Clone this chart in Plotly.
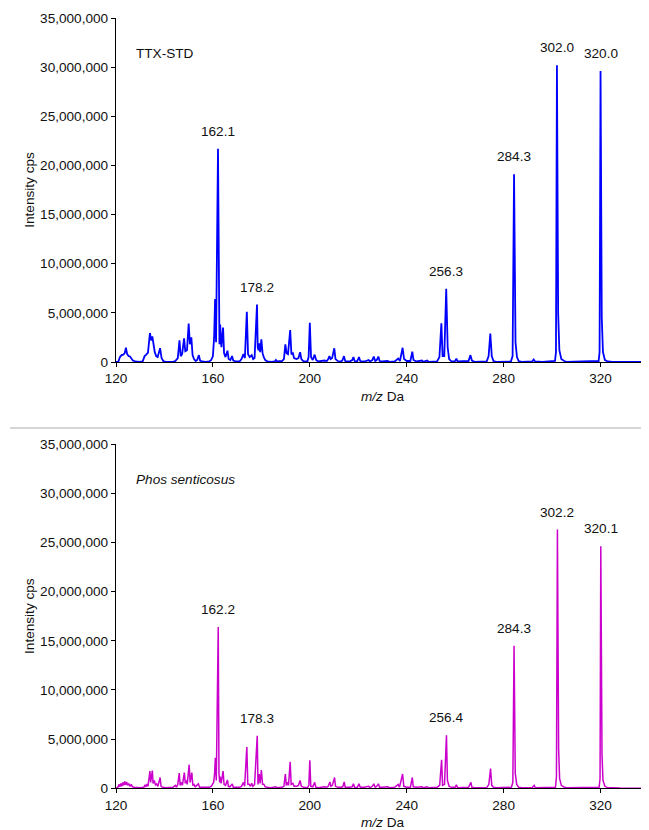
import plotly.graph_objects as go

# ---------------- data ----------------
# TTX standard spectrum profile (m/z, intensity cps)
ttx_mz = [120.0, 121.0, 121.6, 122.3, 123.0, 123.6, 124.1, 124.6, 125.2, 125.8, 126.5, 127.0, 128.0, 129.5,
          131.0, 131.8, 132.5, 133.2, 134.0, 134.5, 135.0, 135.5, 136.0, 136.6, 137.2, 138.2, 138.8, 139.5, 140.5,
          143.0, 144.5, 145.5, 146.2, 146.7, 147.3, 148.1, 148.6, 149.3, 150.0, 150.5, 151.1, 151.6, 152.2, 152.9,
          153.5, 154.2, 154.7, 155.5, 157.0, 158.5, 159.3, 160.0, 160.5, 160.9, 161.3, 162.1, 162.4, 162.7, 163.0,
          163.5, 164.2, 164.6, 165.2, 166.0, 166.5, 167.2, 167.9, 168.4, 169.5, 171.0, 171.8, 172.6, 173.2, 174.0,
          174.5, 175.2, 176.0, 176.6, 177.2, 178.2, 178.5, 178.8, 179.1, 179.5, 180.0, 180.5, 181.0, 181.6, 182.5,
          184.0, 185.5, 186.0, 186.5, 188.5, 189.3, 189.9, 190.4, 191.0, 191.9, 192.4, 193.0, 193.5, 194.5, 195.3,
          196.0, 196.5, 197.5, 199.0, 199.5, 200.0, 200.5, 201.2, 202.0, 202.6, 203.5, 205.0, 206.0, 207.0, 207.6,
          208.1, 208.6, 209.2, 210.1, 210.6, 211.5, 213.0, 213.5, 214.1, 214.6, 216.5, 217.5, 218.0, 218.5, 219.5,
          220.3, 220.8, 222.5, 224.3, 224.8, 225.8, 226.4, 227.0, 227.6, 228.3, 228.8, 230.0, 232.0, 233.0, 235.0,
          236.5, 237.2, 238.3, 238.9, 240.0, 241.5, 242.3, 242.8, 244.0, 246.3, 246.8, 248.4, 249.0, 252.5, 253.5,
          254.3, 254.8, 255.5, 256.3, 256.9, 257.5, 258.5, 260.0, 260.5, 261.0, 265.5, 266.3, 266.9, 268.0, 272.0,
          272.4, 273.0, 273.8, 274.5, 275.1, 275.8, 277.0, 283.0, 283.7, 284.3, 284.9, 285.5, 286.2, 287.5, 291.8,
          292.4, 293.0, 296.0, 301.2, 301.6, 302.0, 302.5, 303.0, 303.8, 305.0, 306.0, 319.2, 319.6, 320.0, 320.5,
          321.0, 321.8, 323.0, 325.0, 340.0]
ttx_int = [0.0, 0.05e6, 0.5e6, 0.7e6, 0.75e6, 0.9e6, 1.45e6, 0.8e6, 0.6e6, 0.55e6, 0.3e6, 0.15e6, 0.05e6, 0.0,
           0.05e6, 0.6e6, 0.75e6, 0.95e6, 2.95e6, 2.2e6, 2.6e6, 1.6e6, 1.0e6, 0.6e6, 0.5e6, 1.4e6, 0.4e6, 0.1e6, 0.02e6,
           0.0, 0.1e6, 0.4e6, 2.2e6, 0.6e6, 0.8e6, 2.4e6, 1.1e6, 1.2e6, 3.9e6, 1.8e6, 2.5e6, 0.7e6, 0.3e6, 0.1e6,
           0.2e6, 0.7e6, 0.15e6, 0.05e6, 0.0, 0.05e6, 0.2e6, 0.6e6, 2.5e6, 6.4e6, 2.0e6, 21.7e6, 5.0e6, 1.8e6, 3.8e6,
           1.5e6, 3.5e6, 0.9e6, 0.5e6, 1.15e6, 0.3e6, 0.2e6, 0.6e6, 0.15e6, 0.05e6, 0.05e6, 0.3e6, 0.8e6, 0.4e6, 5.1e6,
           0.8e6, 0.5e6, 0.7e6, 0.3e6, 0.4e6, 5.85e6, 1.5e6, 1.2e6, 1.9e6, 1.0e6, 2.3e6, 0.9e6, 0.5e6, 0.2e6, 0.05e6,
           0.0, 0.05e6, 0.2e6, 0.05e6, 0.1e6, 0.3e6, 1.8e6, 0.9e6, 0.8e6, 3.25e6, 0.8e6, 0.9e6, 0.4e6, 0.3e6, 0.4e6,
           1.0e6, 0.3e6, 0.05e6, 0.05e6, 0.5e6, 4.0e6, 0.5e6, 0.2e6, 0.75e6, 0.2e6, 0.05e6, 0.1e6, 0.15e6, 0.1e6, 0.3e6,
           0.6e6, 0.3e6, 0.4e6, 1.4e6, 0.3e6, 0.1e6, 0.05e6, 0.2e6, 0.6e6, 0.1e6, 0.05e6, 0.2e6, 0.5e6, 0.1e6, 0.05e6,
           0.5e6, 0.1e6, 0.05e6, 0.2e6, 0.05e6, 0.2e6, 0.55e6, 0.1e6, 0.2e6, 0.55e6, 0.1e6, 0.05e6, 0.1e6, 0.02e6, 0.05e6,
           0.35e6, 0.1e6, 1.45e6, 0.3e6, 0.1e6, 0.1e6, 1.05e6, 0.2e6, 0.05e6, 0.15e6, 0.02e6, 0.15e6, 0.02e6, 0.05e6, 0.5e6,
           3.95e6, 0.6e6, 0.6e6, 7.45e6, 1.5e6, 0.3e6, 0.05e6, 0.1e6, 0.35e6, 0.05e6, 0.1e6, 0.7e6, 0.15e6, 0.02e6, 0.05e6,
           0.1e6, 0.05e6, 0.6e6, 2.9e6, 0.6e6, 0.1e6, 0.02e6, 0.05e6, 0.6e6, 19.1e6, 2.0e6, 0.5e6, 0.1e6, 0.02e6, 0.05e6,
           0.25e6, 0.05e6, 0.02e6, 0.1e6, 1.0e6, 30.2e6, 5.0e6, 1.2e6, 0.3e6, 0.1e6, 0.02e6, 0.1e6, 1.0e6, 29.6e6, 4.5e6,
           1.0e6, 0.2e6, 0.05e6, 0.02e6, 0.0]

# Phos senticosus sample spectrum profile (m/z, intensity cps)
phos_mz = [120.0, 120.8, 121.2, 121.6, 122.0, 122.4, 122.8, 123.2, 123.6, 124.0, 124.4, 124.8, 125.3, 125.8,
           126.3, 126.8, 127.5, 128.5, 130.0, 131.5, 132.0, 132.4, 132.8, 133.2, 133.6, 134.0, 134.3, 134.7, 135.0,
           135.3, 135.8, 136.3, 136.8, 137.3, 138.2, 138.6, 139.3, 140.5, 142.5, 143.5, 144.5, 145.0, 145.5, 146.1,
           146.5, 147.0, 147.4, 148.2, 148.6, 149.0, 149.4, 150.2, 150.6, 151.3, 151.7, 152.2, 152.7, 153.2, 154.0,
           154.5, 155.5, 157.0, 158.5, 159.3, 159.8, 160.3, 160.7, 161.0, 161.4, 162.2, 162.5, 162.8, 163.0, 163.4,
           164.2, 164.6, 165.2, 166.0, 166.4, 167.0, 168.0, 168.4, 169.5, 171.0, 171.8, 172.6, 173.1, 174.0, 174.4,
           175.0, 175.5, 176.0, 176.5, 177.2, 178.3, 178.6, 179.1, 179.5, 180.0, 180.5, 181.0, 181.6, 182.5, 184.0,
           186.0, 186.4, 188.5, 189.3, 189.9, 190.3, 190.8, 191.2, 191.9, 192.3, 193.0, 193.5, 194.5, 195.3, 196.0,
           196.5, 197.5, 199.0, 199.6, 200.0, 200.4, 201.2, 202.0, 202.5, 203.5, 205.0, 206.0, 207.0, 207.6, 208.3,
           208.7, 209.3, 210.2, 210.6, 211.5, 213.0, 213.6, 214.2, 214.6, 216.5, 217.5, 218.0, 218.5, 219.5, 220.3,
           220.8, 222.5, 224.3, 224.8, 225.8, 226.4, 227.0, 227.6, 228.3, 228.8, 230.0, 232.0, 233.0, 235.0, 236.5,
           237.0, 238.3, 238.8, 240.0, 241.5, 242.3, 242.7, 244.0, 246.3, 246.8, 248.4, 249.0, 252.5, 253.6, 254.4,
           254.8, 255.6, 256.4, 256.8, 257.5, 258.5, 260.0, 260.5, 261.0, 265.5, 266.5, 266.9, 268.0, 272.0, 272.5,
           273.0, 273.9, 274.6, 275.1, 275.8, 277.0, 283.2, 283.8, 284.3, 284.8, 285.4, 286.2, 287.5, 291.8, 292.6,
           293.1, 296.0, 301.4, 301.8, 302.2, 302.7, 303.1, 303.8, 305.0, 306.0, 319.4, 319.8, 320.1, 320.6, 321.0,
           321.8, 323.0, 325.0, 328.0, 340.0]
phos_int = [0.0, 0.1e6, 0.4e6, 0.15e6, 0.5e6, 0.2e6, 0.6e6, 0.3e6, 0.7e6, 0.35e6, 0.65e6, 0.3e6, 0.45e6, 0.2e6,
            0.4e6, 0.15e6, 0.1e6, 0.05e6, 0.05e6, 0.1e6, 0.35e6, 0.15e6, 0.45e6, 0.2e6, 1.2e6, 1.75e6, 0.6e6, 1.7e6, 1.8e6,
            0.5e6, 0.8e6, 0.3e6, 0.45e6, 0.2e6, 1.1e6, 0.2e6, 0.1e6, 0.05e6, 0.05e6, 0.1e6, 0.3e6, 0.1e6, 0.4e6, 1.55e6,
            0.3e6, 0.6e6, 0.3e6, 1.6e6, 0.5e6, 0.8e6, 0.4e6, 2.4e6, 0.6e6, 1.6e6, 0.3e6, 0.4e6, 0.15e6, 0.3e6, 0.45e6,
            0.1e6, 0.1e6, 0.05e6, 0.1e6, 0.2e6, 0.4e6, 0.6e6, 1.5e6, 3.1e6, 0.8e6, 16.4e6, 1.5e6, 0.6e6, 1.2e6, 0.5e6,
            1.75e6, 0.4e6, 0.3e6, 0.85e6, 0.2e6, 0.15e6, 0.45e6, 0.1e6, 0.1e6, 0.1e6, 0.2e6, 0.6e6, 0.2e6, 4.2e6, 0.4e6,
            0.4e6, 0.2e6, 0.5e6, 0.2e6, 0.4e6, 5.35e6, 0.4e6, 1.45e6, 0.5e6, 1.85e6, 0.4e6, 0.4e6, 0.15e6, 0.1e6, 0.05e6,
            0.15e6, 0.05e6, 0.1e6, 0.2e6, 1.45e6, 0.3e6, 0.6e6, 0.3e6, 2.7e6, 0.4e6, 0.5e6, 0.2e6, 0.2e6, 0.3e6, 0.8e6,
            0.2e6, 0.1e6, 0.05e6, 0.3e6, 2.85e6, 0.2e6, 0.15e6, 0.6e6, 0.1e6, 0.05e6, 0.1e6, 0.15e6, 0.1e6, 0.2e6, 0.65e6,
            0.2e6, 0.3e6, 1.1e6, 0.2e6, 0.1e6, 0.1e6, 0.15e6, 0.65e6, 0.1e6, 0.1e6, 0.15e6, 0.45e6, 0.1e6, 0.05e6, 0.45e6,
            0.1e6, 0.1e6, 0.2e6, 0.05e6, 0.2e6, 0.45e6, 0.1e6, 0.2e6, 0.45e6, 0.1e6, 0.1e6, 0.15e6, 0.05e6, 0.1e6, 0.4e6,
            0.1e6, 1.45e6, 0.2e6, 0.1e6, 0.1e6, 1.1e6, 0.15e6, 0.1e6, 0.15e6, 0.05e6, 0.15e6, 0.05e6, 0.1e6, 0.3e6, 2.9e6,
            0.3e6, 0.4e6, 5.4e6, 0.8e6, 0.2e6, 0.1e6, 0.1e6, 0.35e6, 0.05e6, 0.1e6, 0.6e6, 0.1e6, 0.05e6, 0.05e6, 0.1e6,
            0.05e6, 0.4e6, 2.0e6, 0.3e6, 0.1e6, 0.05e6, 0.1e6, 0.6e6, 14.5e6, 1.5e6, 0.4e6, 0.1e6, 0.05e6, 0.05e6, 0.3e6,
            0.05e6, 0.05e6, 0.1e6, 1.2e6, 26.3e6, 4.0e6, 1.0e6, 0.3e6, 0.1e6, 0.05e6, 0.1e6, 1.0e6, 24.6e6, 3.5e6, 0.8e6,
            0.2e6, 0.05e6, 0.05e6, 0.02e6, 0.0]

# labelled peaks
ttx_label_mz = [162.1, 178.2, 256.3, 284.3, 302.0, 320.0]
ttx_label_int = [21.7e6, 5.85e6, 7.45e6, 19.1e6, 30.2e6, 29.6e6]
ttx_label_text = ["162.1", "178.2", "256.3", "284.3", "302.0", "320.0"]

phos_label_mz = [162.2, 178.3, 256.4, 284.3, 302.2, 320.1]
phos_label_int = [16.4e6, 5.35e6, 5.4e6, 14.5e6, 26.3e6, 24.6e6]
phos_label_text = ["162.2", "178.3", "256.4", "284.3", "302.2", "320.1"]

panel_titles = ["TTX-STD", "<i>Phos senticosus</i>"]
x_title = "<i>m/z</i> Da"
y_title = "Intensity cps"
x_ticks = [120, 160, 200, 240, 280, 320]
y_ticks = [0, 5e6, 10e6, 15e6, 20e6, 25e6, 30e6, 35e6]

# ---------------- figure ----------------
# page body has an 8px margin, so the figure is drawn 8px in from the window's corner
OFF = 8
W, H = 649 - OFF, 830 - OFF
FONT = "Arial, 'Liberation Sans', sans-serif"
FS = 13.6
TXT = "#111111"

fig = go.Figure()
fig.add_trace(go.Scatter(x=ttx_mz, y=ttx_int, mode="lines",
                         line=dict(color="#0000FF", width=1.8), xaxis="x", yaxis="y",
                         showlegend=False, hoverinfo="x+y"))
fig.add_trace(go.Scatter(x=phos_mz, y=phos_int, mode="lines",
                         line=dict(color="#CC00CC", width=1.5), xaxis="x2", yaxis="y2",
                         showlegend=False, hoverinfo="x+y"))

def ydom(top_px, bot_px):
    return [1 - (bot_px - OFF) / H, 1 - (top_px - OFF) / H]

top_dom = ydom(18, 362)
bot_dom = ydom(444, 788.3)
x_dom = [(116 - OFF) / W, 1.0]

def xaxis(anchor):
    return dict(domain=x_dom, anchor=anchor, range=[120, 340], tickvals=x_ticks,
                ticks="outside", ticklen=4, tickwidth=1.2, tickcolor="#000",
                showline=True, linecolor="#000", linewidth=1.3, showgrid=False, zeroline=False,
                tickfont=dict(family=FONT, size=FS, color=TXT),
                title=dict(text=x_title, font=dict(family=FONT, size=FS, color=TXT), standoff=6),
                automargin=False)

def yaxis(anchor, dom):
    return dict(domain=dom, anchor=anchor, range=[0, 35e6], tickvals=y_ticks, tickformat=",d",
                ticks="outside", ticklen=4, tickwidth=1.2, tickcolor="#000",
                showline=True, linecolor="#000", linewidth=1.3, showgrid=False, zeroline=False,
                tickfont=dict(family=FONT, size=FS, color=TXT),
                title=dict(text=y_title, font=dict(family=FONT, size=FS, color=TXT), standoff=2),
                automargin=False)

fig.update_layout(
    width=W, height=H,
    margin=dict(l=0, r=0, t=0, b=0),
    paper_bgcolor="white", plot_bgcolor="white",
    font=dict(family=FONT, size=FS, color=TXT),
    xaxis=xaxis("y"), yaxis=yaxis("x", top_dom),
    xaxis2=xaxis("y2"), yaxis2=yaxis("x2", bot_dom),
    showlegend=False,
)

annotations = []
for xs, ys, ts, xr, yr in [(ttx_label_mz, ttx_label_int, ttx_label_text, "x", "y"),
                           (phos_label_mz, phos_label_int, phos_label_text, "x2", "y2")]:
    for mx, iy, t in zip(xs, ys, ts):
        annotations.append(dict(x=mx, y=iy, xref=xr, yref=yr, text=t, showarrow=False,
                                xanchor="center", yanchor="middle", yshift=17.5,
                                font=dict(family=FONT, size=FS, color=TXT)))
annotations.append(dict(x=127.5, y=31.4e6, xref="x", yref="y", text=panel_titles[0], showarrow=False,
                        xanchor="left", yanchor="middle", font=dict(family=FONT, size=FS, color=TXT)))
annotations.append(dict(x=127.5, y=31.4e6, xref="x2", yref="y2", text=panel_titles[1], showarrow=False,
                        xanchor="left", yanchor="middle", font=dict(family=FONT, size=FS, color=TXT)))
fig.update_layout(annotations=annotations)

sep_y = 1 - (428 - OFF) / H
fig.add_shape(type="line", xref="paper", yref="paper", x0=(10 - OFF) / W, x1=1.0,
              y0=sep_y, y1=sep_y, line=dict(color="#C8C8C8", width=1.5))

fig.write_html("out.html")
